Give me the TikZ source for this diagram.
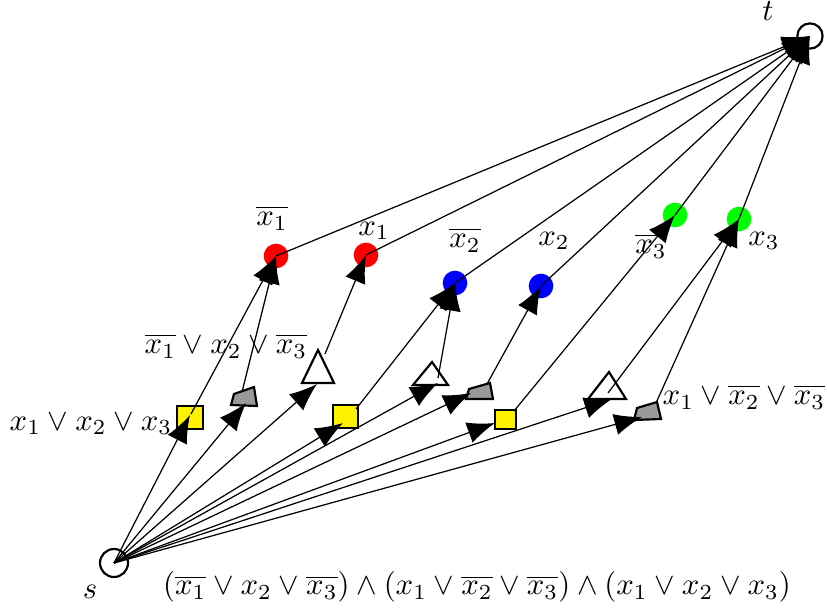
\documentclass[tikz,border=0pt]{standalone}
\usetikzlibrary{arrows.meta}
\begin{document}
\begin{tikzpicture}[x=0.325pt,y=-0.325pt,
  lit/.style={circle,inner sep=0pt,minimum size=8pt},
  term/.style={circle,draw,line width=0.7pt,inner sep=0pt,minimum size=8.2pt},
  link/.style={line width=0.4pt,-{Latex[length=9pt,width=7pt]}},
  sq/.style={draw,line width=0.7pt,fill=yellow},
  tri/.style={draw,line width=0.7pt,fill=white,line join=miter},
  quad/.style={draw,line width=0.7pt,fill=black!40},
  lab/.style={inner sep=0pt}]
\useasboundingbox (0,0) rectangle (827,611);

% source and sink
\node[term,minimum size=9.1pt] (s) at (114,563) {};
\node[term] (t) at (810,36) {};
\node[lab] (ls) at (90,592) {$s$};
\node[lab] (lt) at (768,11) {$t$};

% literal vertices
\node[lit,fill=red]   (nx1) at (276,256) {};
\node[lit,fill=red]   (px1) at (366,255) {};
\node[lit,fill=blue]  (nx2) at (455,283) {};
\node[lit,fill=blue]  (px2) at (541,286) {};
\node[lit,fill=green] (nx3) at (675,215) {};
\node[lit,fill=green] (px3) at (739,219) {};

\node[lab] (lnx1) at (272,218) {$\overline{x_1}$};
\node[lab] (lpx1) at (374,231) {$x_1$};
\node[lab] (lnx2) at (465,240) {$\overline{x_2}$};
\node[lab] (lpx2) at (554,241) {$x_2$};
\node[lab] (lnx3) at (651,246) {$\overline{x_3}$};
\node[lab] (lpx3) at (764,241) {$x_3$};

% clause gadgets: square, quadrilateral, triangle
\draw[sq]   (177,406) rectangle (203,429);
\draw[quad] (234,394) -- (254,387) -- (257,406) -- (231,405) -- cycle;
\draw[tri]  (318,350) -- (334,383) -- (302,383) -- cycle;

\draw[sq]   (333,405) rectangle (358,428);
\draw[tri]  (432,362) -- (448,385) -- (413,385) -- cycle;
\draw[quad] (469,389) -- (490,383) -- (493,399) -- (466,399) -- cycle;

\draw[sq]   (495,410) rectangle (516,429);
\draw[tri]  (609,372) -- (626,399) -- (588,399) -- cycle;
\draw[quad] (637,408) -- (657,402) -- (661,419) -- (634,420) -- cycle;

% entry and exit points of the gadgets
\coordinate (a1in) at (190,415);  \coordinate (a1out) at (191,414);
\coordinate (b1in) at (246,403);  \coordinate (b1out) at (242,392);
\coordinate (c1in) at (317,384);  \coordinate (c1out) at (325,354);
\coordinate (a2in) at (343,423);  \coordinate (a2out) at (356,409);
\coordinate (b2in) at (438,383);  \coordinate (b2out) at (438,378);
\coordinate (c2in) at (471,393);  \coordinate (c2out) at (487,384);
\coordinate (a3in) at (495,423);  \coordinate (a3out) at (514,411);
\coordinate (b3in) at (612,399);  \coordinate (b3out) at (608,393);
\coordinate (c3in) at (642,417);  \coordinate (c3out) at (656,403);

% clause labels
\node[lab] (cl1) at (91,424)  {$x_1\vee x_2\vee x_3$};
\node[lab] (cl2) at (226,346) {$\overline{x_1}\vee x_2\vee\overline{x_3}$};
\node[lab] (cl3) at (744,397) {$x_1\vee\overline{x_2}\vee\overline{x_3}$};
\node[lab] (phi) at (477,587) {$(\overline{x_1}\vee x_2\vee\overline{x_3})\wedge(x_1\vee\overline{x_2}\vee\overline{x_3})\wedge(x_1\vee x_2\vee x_3)$};

% source to gadgets
\foreach \g in {a1,b1,c1,a2,b2,c2,a3,b3,c3}
  \draw[link] (s.center) -- (\g in);

% gadgets to literals
\draw[link] (a1out) -- (nx1.center);
\draw[link] (b1out) -- (nx1.center);
\draw[link] (c1out) -- (px1.center);
\draw[link] (a2out) -- (nx2.center);
\draw[link] (b2out) -- (nx2.center);
\draw[link] (c2out) -- (px2.center);
\draw[link] (a3out) -- (nx3.center);
\draw[link] (b3out) -- (px3.center);
\draw[link] (c3out) -- (px3.center);

% literals to sink
\foreach \v in {nx1,px1,nx2,px2,nx3,px3}
  \draw[link] (\v.center) -- (t.center);
\end{tikzpicture}
\end{document}
